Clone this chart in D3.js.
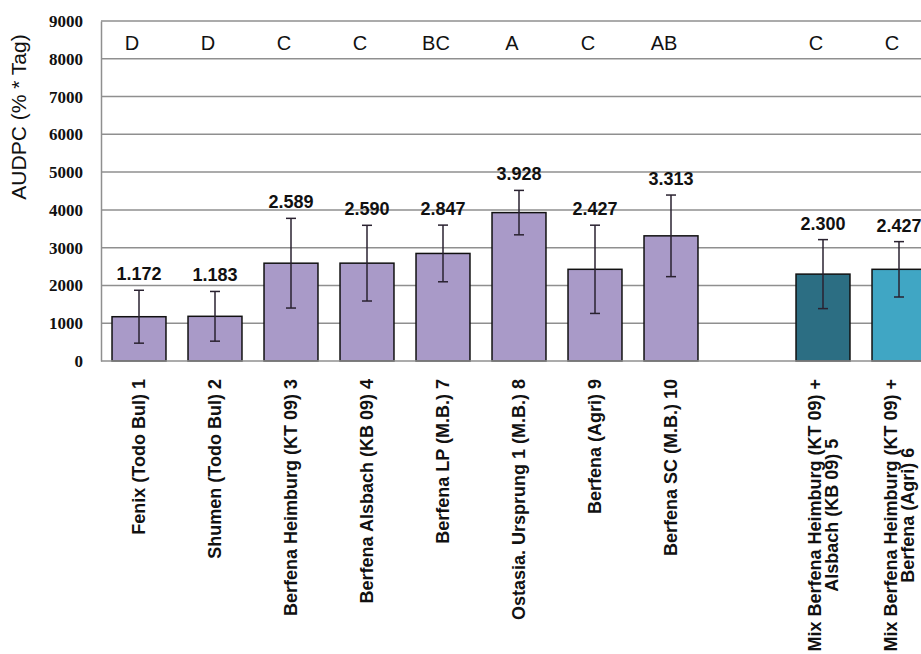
<!DOCTYPE html>
<html>
<head>
<meta charset="utf-8">
<script src="https://cdn.jsdelivr.net/npm/d3@7/dist/d3.min.js"></script>
<style>
  html, body { margin: 0; padding: 0; background: #fff; overflow: hidden; }
  svg { display: block; }
</style>
</head>
<body>
<svg id="chart" width="921" height="654"></svg>
<script>
// Varieties (single lines) followed by the two mixtures
const categories = [
  ["Fenix (Todo Bul) 1"],
  ["Shumen (Todo Bul) 2"],
  ["Berfena Heimburg (KT 09) 3"],
  ["Berfena Alsbach  (KB 09) 4"],
  ["Berfena LP (M.B.) 7"],
  ["Ostasia. Ursprung 1 (M.B.) 8"],
  ["Berfena (Agri) 9"],
  ["Berfena SC (M.B.) 10"],
  ["Mix Berfena Heimburg (KT 09)  +", "Alsbach (KB 09) 5"],
  ["Mix Berfena Heimburg (KT 09) +", "Berfena (Agri) 6"]
];
// Mean AUDPC per entry
const audpc = [1172, 1183, 2589, 2590, 2847, 3928, 2427, 3313, 2300, 2427];
// Error (+/-) per entry
const errors = [700, 658, 1187, 1002, 750, 588, 1168, 1080, 913, 733];
// Significance letters
const letters = ["D", "D", "C", "C", "BC", "A", "C", "AB", "C", "C"];
// Y axis ticks
const yTicks = [0, 1000, 2000, 3000, 4000, 5000, 6000, 7000, 8000, 9000];
const yMax = 9000;
const yTitle = "AUDPC (% * Tag)";
// Index after which an empty slot separates varieties from mixtures
const gapAfter = 7;

const svg = d3.select("#chart");
const margin = { left: 101, top: 21 };
const step = 76;
const plotH = 340;
const sans = "'Liberation Sans', Arial, sans-serif";

// slot keys: one per category plus a blank slot before the mixtures
const slots = [];
categories.forEach((c, i) => {
  slots.push("c" + i);
  if (i === gapAfter) slots.push("gap");
});
const plotW = step * slots.length;

const x = d3.scaleBand().domain(slots)
  .range([margin.left, margin.left + plotW])
  .paddingInner(0.29).paddingOuter(0.145);
const y = d3.scaleLinear().domain([0, yMax]).range([margin.top + plotH, margin.top]);

const color = d3.scaleOrdinal()
  .domain(categories.map((c, i) => "c" + i))
  .range(categories.map((c, i) => i < 8 ? "#a99ac8" : (i === 8 ? "#2c6e83" : "#40a6c4")));

const de = d3.formatLocale({ decimal: ",", thousands: ".", grouping: [3], currency: ["", "€"] });
const fmt = de.format(",");

// gridlines
svg.append("g").selectAll("line").data(yTicks.filter(t => t > 0)).join("line")
  .attr("x1", margin.left).attr("x2", margin.left + plotW)
  .attr("y1", d => y(d)).attr("y2", d => y(d))
  .attr("stroke", "#8f8f8f").attr("stroke-width", 1.5);

// y axis
const yAxis = svg.append("g").attr("transform", `translate(${margin.left},0)`)
  .call(d3.axisLeft(y).tickValues(yTicks).tickSize(0).tickPadding(18).tickFormat(d3.format("d")));
yAxis.select(".domain").attr("stroke", "#8f8f8f").attr("stroke-width", 1.5);
yAxis.selectAll("text")
  .attr("font-family", "'Liberation Serif', 'Times New Roman', serif")
  .attr("font-weight", "bold").attr("font-size", 17).attr("fill", "#111");

// y title
svg.append("text")
  .attr("transform", `translate(19,${117}) rotate(-90)`)
  .attr("text-anchor", "middle").attr("dy", "0.35em")
  .attr("font-family", sans)
  .attr("font-size", 21).attr("fill", "#111")
  .text(yTitle);

const data = categories.map((c, i) => ({ key: "c" + i, label: c, v: audpc[i], e: errors[i], l: letters[i] }));

// bars
svg.append("g").selectAll("rect").data(data).join("rect")
  .attr("x", d => x(d.key)).attr("width", x.bandwidth())
  .attr("y", d => y(d.v)).attr("height", d => y(0) - y(d.v))
  .attr("fill", d => color(d.key))
  .attr("stroke", "#111").attr("stroke-width", 1.5);

// x axis baseline
svg.append("line")
  .attr("x1", margin.left).attr("x2", margin.left + plotW)
  .attr("y1", y(0)).attr("y2", y(0))
  .attr("stroke", "#8f8f8f").attr("stroke-width", 1.5);

// error bars
const cap = 5;
const eb = svg.append("g").attr("stroke", "#2a2230").attr("stroke-width", 1.5);
data.forEach(d => {
  const cx = x(d.key) + x.bandwidth() / 2;
  eb.append("line").attr("x1", cx).attr("x2", cx).attr("y1", y(d.v + d.e)).attr("y2", y(d.v - d.e));
  eb.append("line").attr("x1", cx - cap).attr("x2", cx + cap).attr("y1", y(d.v + d.e)).attr("y2", y(d.v + d.e));
  eb.append("line").attr("x1", cx - cap).attr("x2", cx + cap).attr("y1", y(d.v - d.e)).attr("y2", y(d.v - d.e));
});

// value labels
svg.append("g").selectAll("text").data(data).join("text")
  .attr("x", d => x(d.key) + x.bandwidth() / 2)
  .attr("y", d => y(d.v + d.e) - 10)
  .attr("text-anchor", "middle")
  .attr("font-family", sans)
  .attr("font-weight", "bold").attr("font-size", 18).attr("fill", "#111")
  .text(d => fmt(d.v));

// significance letters
svg.append("g").selectAll("text").data(data).join("text")
  .attr("x", d => x(d.key) + x.bandwidth() / 2 - 7)
  .attr("y", 50)
  .attr("text-anchor", "middle")
  .attr("font-family", sans)
  .attr("font-size", 20).attr("fill", "#111")
  .text(d => d.l);

// category labels, rotated
const labelTop = 379;
const lineGap = 17;
data.forEach(d => {
  const cx = x(d.key) + x.bandwidth() / 2;
  const n = d.label.length;
  const g = svg.append("g");
  const texts = d.label.map(s => g.append("text")
    .attr("font-family", sans)
    .attr("font-weight", "bold").attr("font-size", 18).attr("fill", "#111")
    .text(s));
  const len0 = texts[0].node().getComputedTextLength();
  const mid = labelTop + len0 / 2;
  texts.forEach((t, k) => {
    const off = (k - (n - 1) / 2) * lineGap;
    t.attr("text-anchor", "middle").attr("dy", "0.35em")
      .attr("transform", `translate(${cx + off},${mid}) rotate(-90)`);
  });
});
</script>
</body>
</html>
